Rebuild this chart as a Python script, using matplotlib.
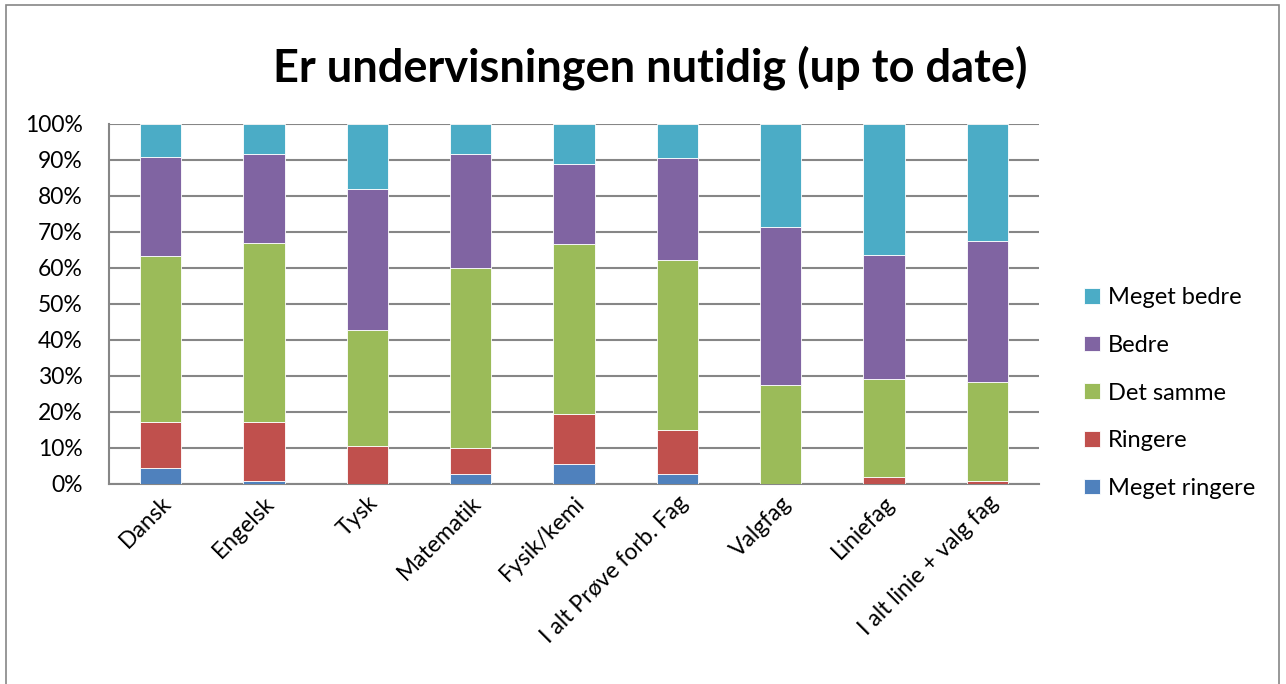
import matplotlib
matplotlib.use("Agg")
import matplotlib.pyplot as plt
from matplotlib.patches import Rectangle
import numpy as np

categories = ["Dansk", "Engelsk", "Tysk", "Matematik", "Fysik/kemi",
              "I alt Prøve forb. Fag", "Valgfag", "Liniefag", "I alt linie + valg fag"]
meget_ringere = [4.5, 0.8, 0.0, 2.8, 5.6, 2.8, 0.0, 0.0, 0.0]
ringere       = [12.8, 16.5, 10.5, 7.2, 13.8, 12.1, 0.0, 1.9, 0.9]
det_samme     = [46.1, 49.7, 32.4, 50.1, 47.2, 47.4, 27.5, 27.4, 27.5]
bedre         = [27.4, 24.7, 39.1, 31.6, 22.3, 28.3, 43.9, 34.3, 39.1]
meget_bedre   = [9.2, 8.3, 18.0, 8.3, 11.1, 9.4, 28.6, 36.4, 32.5]

series = [("Meget ringere", meget_ringere, "#4F81BD"),
          ("Ringere", ringere, "#C0504D"),
          ("Det samme", det_samme, "#9BBB59"),
          ("Bedre", bedre, "#8064A2"),
          ("Meget bedre", meget_bedre, "#4BACC6")]

plt.rcParams['font.family'] = ['Lato', 'DejaVu Sans']

W, H = 1286, 684
fig = plt.figure(figsize=(W/100, H/100), dpi=100)
ax = fig.add_axes([109/W, 1-484/H, 930/W, 360/H])

x = np.arange(len(categories))
bottom = np.zeros(len(categories))
handles = []
for name, vals, col in series:
    v = np.array(vals)
    b = ax.bar(x, v, 0.4, bottom=bottom, color=col, edgecolor='white', linewidth=0.6,
               label=name, zorder=3)
    handles.append(b)
    bottom += v

ax.set_xlim(-0.5, len(categories)-0.5)
ax.set_ylim(0, 100)
ax.set_yticks(np.arange(0, 101, 10))
ax.set_yticklabels([f"{t}%" for t in range(0, 101, 10)], fontsize=16.5)
ax.yaxis.grid(True, color='#868686', linewidth=1.5, zorder=0)
ax.set_axisbelow(True)
for s in ['top', 'right']:
    ax.spines[s].set_visible(False)
ax.spines['left'].set_color('#868686')
ax.spines['left'].set_linewidth(1.5)
ax.spines['bottom'].set_color('#868686')
ax.spines['bottom'].set_linewidth(1.5)
ax.tick_params(axis='y', length=0, pad=19)
ax.tick_params(axis='x', length=0, pad=6)
ax.set_xticks(x)
ax.set_xticklabels(categories, rotation=45, ha='right', rotation_mode='anchor', fontsize=16.5)

fig.text(650/W, 1-68/H, "Er undervisningen nutidig (up to date)", ha='center', va='center',
         fontsize=32.5, fontweight='bold')

leg = fig.legend(handles[::-1], [s[0] for s in series][::-1], loc='center left',
                 bbox_to_anchor=(1063/W, 1-393/H), frameon=False, fontsize=17,
                 handlelength=0.65, handleheight=0.65, handletextpad=0.35, labelspacing=1.13)

fig.patches.append(Rectangle((6/W, -0.05), 1273/W, 1.05-5/H, transform=fig.transFigure,
                             fill=False, edgecolor='#868686', linewidth=1.2))

fig.savefig("out.png", dpi=100)
